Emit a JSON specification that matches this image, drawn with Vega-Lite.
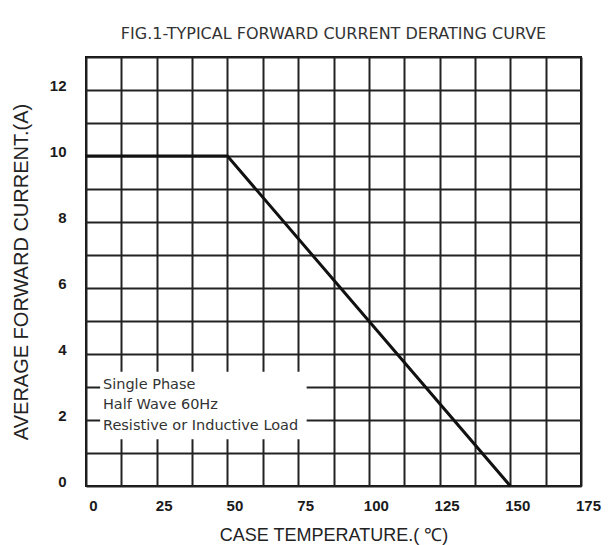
{
  "$schema": "https://vega.github.io/schema/vega-lite/v6.json",
  "autosize": {"type": "none"},
  "width": 495,
  "height": 429,
  "padding": {"left": 86, "top": 57, "right": 30, "bottom": 59},
  "background": "white",
  "title": {
    "text": "FIG.1-TYPICAL FORWARD CURRENT DERATING CURVE",
    "font": "DejaVu Sans",
    "fontSize": 16,
    "fontWeight": "normal",
    "color": "#333333",
    "anchor": "middle",
    "offset": 3
  },
  "view": {"stroke": "#111111", "strokeWidth": 2},
  "config": {
    "font": "Liberation Sans",
    "axis": {
      "labelFont": "Liberation Sans",
      "labelColor": "#1a1a1a",
      "titleFont": "Liberation Sans",
      "titleColor": "#222222",
      "titleFontWeight": "normal",
      "gridColor": "#222222",
      "gridWidth": 2,
      "gridOpacity": 1,
      "ticks": false,
      "domain": false,
      "tickCount": 100
    }
  },
  "datasets": {
    "curve": [
      {"temp": 0, "current": 10},
      {"temp": 50, "current": 10},
      {"temp": 150, "current": 0}
    ],
    "box": [
      {"x1": 5, "x2": 78, "y1": 1.42, "y2": 3.46}
    ],
    "notes": [
      {"x": 6, "y": 3.06, "label": "Single Phase"},
      {"x": 6, "y": 2.44, "label": "Half Wave 60Hz"},
      {"x": 6, "y": 1.83, "label": "Resistive or Inductive Load"}
    ]
  },
  "layer": [
    {
      "data": {"name": "curve"},
      "mark": {"type": "line", "color": "#111111", "strokeWidth": 3},
      "encoding": {
        "x": {
          "field": "temp",
          "type": "quantitative",
          "scale": {"domain": [0, 175], "nice": false, "zero": false},
          "axis": {
            "values": [0, 12.5, 25, 37.5, 50, 62.5, 75, 87.5, 100, 112.5, 125, 137.5, 150, 162.5, 175],
            "tickCount": 100,
            "format": "d",
            "labelExpr": "datum.value % 25 == 0 ? datum.label : ''",
            "labelFontSize": 15,
            "labelFontWeight": "bold",
            "labelPadding": 12,
            "labelOffset": 7,
            "labelFlush": false,
            "labelOverlap": false,
            "title": "CASE TEMPERATURE.( ℃)",
            "titleFontSize": 18,
            "titlePadding": 13
          }
        },
        "y": {
          "field": "current",
          "type": "quantitative",
          "scale": {"domain": [0, 13], "nice": false},
          "axis": {
            "values": [0, 1, 2, 3, 4, 5, 6, 7, 8, 9, 10, 11, 12, 13],
            "tickCount": 100,
            "format": "d",
            "labelExpr": "datum.value % 2 == 0 && datum.value <= 12 ? datum.label : ''",
            "labelFontSize": 15,
            "labelFontWeight": "bold",
            "labelPadding": 20,
            "labelOffset": -5,
            "labelFlush": false,
            "labelOverlap": false,
            "title": "AVERAGE FORWARD CURRENT.(A)",
            "titleFontSize": 20,
            "titlePadding": 18
          }
        }
      }
    },
    {
      "data": {"name": "box"},
      "mark": {"type": "rect", "color": "white", "opacity": 1},
      "encoding": {
        "x": {"field": "x1", "type": "quantitative"},
        "x2": {"field": "x2"},
        "y": {"field": "y1", "type": "quantitative"},
        "y2": {"field": "y2"}
      }
    },
    {
      "data": {"name": "notes"},
      "mark": {"type": "text", "align": "left", "baseline": "middle", "font": "DejaVu Sans", "fontSize": 14.5, "color": "#333333"},
      "encoding": {
        "x": {"field": "x", "type": "quantitative"},
        "y": {"field": "y", "type": "quantitative"},
        "text": {"field": "label"}
      }
    }
  ]
}
